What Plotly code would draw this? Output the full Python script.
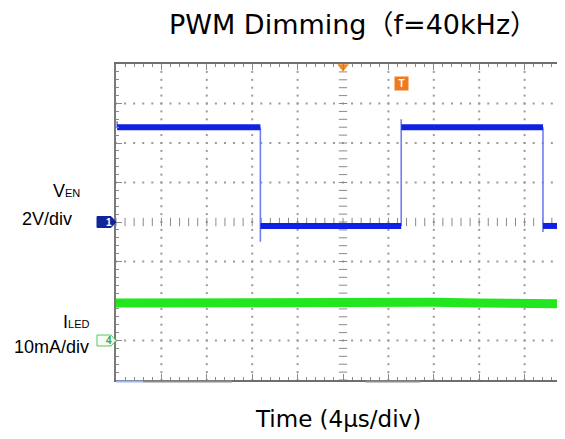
import numpy as np
import plotly.graph_objects as go

# ---------------- data ----------------
time_per_div_us = 4            # horizontal scale
en_v_per_div = 2               # channel 1 scale
led_ma_per_div = 10            # channel 4 scale
en_ground_div = 0              # channel 1 ground marker (divisions)
led_ground_div = -3            # channel 4 ground marker (divisions)
x_range_us = [-20, 19.56]

# V_EN flat levels (segments) in µs / V
en_seg_start_us = [-19.9, -7.28, 5.13, 17.62]
en_seg_end_us = [-7.28, 5.13, 17.62, 19.56]
en_seg_level_v = [4.8, -0.2, 4.8, -0.2]
# V_EN switching edges
en_edge_us = [-7.28, 5.13, 17.62]
en_edge_from_v = [4.8, -0.2, 4.8]
en_edge_peak_v = [-1.0, 5.2, -0.5]
en_edge_to_v = [-0.2, 4.8, -0.2]
en_start_us = -19.9
en_start_spike_v = 5.1
en_trigger_level_v = 1.8

# I_LED trace
led_time_us = [-20, -14, -8, -3, 0, 4, 8, 12, 16, 19.56]
led_ma = [9.5, 9.6, 9.8, 9.9, 10.0, 9.9, 9.7, 9.5, 9.3, 9.3]

title_text = "PWM Dimming（f=40kHz）"
xlabel_text = "Time (4μs/div)"

# ---------------- layout geometry ----------------
OFF = 8                       # page margin of the html body
W, H = 565 - OFF, 439 - OFF
L, R, T, B = 116 - OFF, 0, 64 - OFF, 59
PW, PH = W - L - R, H - T - B


def px_x(px):
    # px given in page coordinates
    return (px - OFF - L) / PW


def px_y(py):
    return (H - B - (py - OFF)) / PH


def en_div(v):
    return v / en_v_per_div + en_ground_div


def led_div(ma):
    return ma / led_ma_per_div + led_ground_div


fig = go.Figure()

# ---------------- graticule dots ----------------
x_major = [x_range_us[0] + time_per_div_us * k for k in range(10)]
y_major = list(range(-4, 5))
gx, gy = [], []
for xm in x_major:
    if xm in (x_range_us[0], 0):
        continue
    for yy in np.arange(-4, 4.001, 0.2):
        gx.append(xm)
        gy.append(yy)
for ym in y_major:
    if ym in (-4, 4, 0):
        continue
    for xx in np.arange(x_range_us[0], x_range_us[1], time_per_div_us / 5):
        gx.append(xx)
        gy.append(ym)
fig.add_trace(go.Scatter(x=gx, y=gy, mode="markers", hoverinfo="skip",
                         marker=dict(symbol="square", size=2, color="#9a9a9a"),
                         showlegend=False))

# center cross with minor ticks
cy = list(np.arange(-4, 4.001, 0.2))
fig.add_trace(go.Scatter(x=[0] * len(cy), y=cy, mode="markers", hoverinfo="skip",
                         marker=dict(symbol="line-ew", size=6,
                                     line=dict(width=1, color="#8a8a8a")),
                         showlegend=False))
cx = list(np.arange(x_range_us[0], x_range_us[1], time_per_div_us / 5))
fig.add_trace(go.Scatter(x=cx, y=[0] * len(cx), mode="markers", hoverinfo="skip",
                         marker=dict(symbol="line-ns", size=6,
                                     line=dict(width=1, color="#8a8a8a")),
                         showlegend=False))

# ---------------- I_LED (green) ----------------
fig.add_trace(go.Scatter(x=led_time_us, y=[led_div(v) for v in led_ma],
                         mode="lines", line=dict(color="#22e61e", width=9),
                         hoverinfo="skip", showlegend=False))

# ---------------- V_EN (blue) ----------------
ex, ey = [], []
for xe, a, p, b in zip(en_edge_us, en_edge_from_v, en_edge_peak_v, en_edge_to_v):
    ex += [xe, xe, xe, None]
    ey += [en_div(a), en_div(p), en_div(b), None]
ex += [en_start_us, en_start_us, None]
ey += [en_div(en_seg_level_v[0]), en_div(en_start_spike_v), None]
fig.add_trace(go.Scatter(x=ex, y=ey, mode="lines",
                         line=dict(color="#6f7ff2", width=1.6),
                         hoverinfo="skip", showlegend=False))

sx, sy = [], []
for s, e, v in zip(en_seg_start_us, en_seg_end_us, en_seg_level_v):
    sx += [s, e, None]
    sy += [en_div(v), en_div(v), None]
fig.add_trace(go.Scatter(x=sx, y=sy, mode="lines",
                         line=dict(color="#0f22e4", width=6),
                         hoverinfo="skip", showlegend=False))

# trigger level arrow and trigger position marker
fig.add_trace(go.Scatter(x=[x_range_us[1] - 0.38], y=[en_div(en_trigger_level_v)],
                         mode="markers", cliponaxis=False, hoverinfo="skip",
                         marker=dict(symbol="triangle-left", size=7, color="#1a2ed0"),
                         showlegend=False))
fig.add_trace(go.Scatter(x=[0], y=[3.93], mode="markers", cliponaxis=False,
                         hoverinfo="skip",
                         marker=dict(symbol="triangle-down", size=10, color="#f08a24"),
                         showlegend=False))
fig.add_annotation(x=en_edge_us[1], y=px_y(76), xref="x", yref="paper",
                   text="<b>T</b>", showarrow=False,
                   font=dict(family="Liberation Sans", size=10, color="white"),
                   bgcolor="#f07a1e", borderpad=1, width=11, height=11)


# ---------------- channel markers in the left margin ----------------
def pentagon(yc, half_px, x0_px, x1_px, tip_px):
    h = half_px / (PH / 8)
    return (f"M {px_x(x0_px)},{yc + h} L {px_x(x1_px)},{yc + h} "
            f"L {px_x(tip_px)},{yc} L {px_x(x1_px)},{yc - h} "
            f"L {px_x(x0_px)},{yc - h} Z")


fig.add_shape(type="path", xref="paper", yref="y",
              path=pentagon(en_ground_div, 5.5, 97, 111, 116),
              fillcolor="#12249a", line=dict(color="#12249a", width=1))
fig.add_annotation(x=px_x(104), y=en_ground_div, xref="paper", yref="y",
                   text="<b>1</b>", showarrow=False,
                   font=dict(family="Liberation Sans", size=10, color="white"))
fig.add_shape(type="path", xref="paper", yref="y",
              path=pentagon(led_ground_div, 5.5, 97, 111, 116),
              fillcolor="#f4fff4", line=dict(color="#5cc25c", width=1))
fig.add_annotation(x=px_x(104), y=led_ground_div, xref="paper", yref="y",
                   text="<b>4</b>", showarrow=False,
                   font=dict(family="Liberation Sans", size=10, color="#3aa83a"))

# small bars under the graticule
for x0, x1, col in [(-20.3, -17.6, "#9fb4f0"), (-17.6, -9.76, "#8c8c8c"),
                    (1.99, 6.84, "#8c8c8c")]:
    fig.add_shape(type="line", xref="x", yref="paper", x0=x0, x1=x1,
                  y0=px_y(381.5), y1=px_y(381.5),
                  line=dict(color=col, width=2))

# ---------------- texts ----------------
fig.add_annotation(x=px_x(353), y=px_y(24), xref="paper", yref="paper",
                   text=title_text, showarrow=False, xanchor="center", yanchor="middle",
                   font=dict(family="DejaVu Sans, Noto Sans CJK SC", size=27, color="black"))
fig.add_annotation(x=px_x(338), y=px_y(419), xref="paper", yref="paper",
                   text=xlabel_text, showarrow=False, xanchor="center", yanchor="middle",
                   font=dict(family="DejaVu Sans", size=23, color="black"))
side_font = dict(family="Liberation Sans", size=18, color="black")
fig.add_annotation(x=px_x(82), y=px_y(191), xref="paper", yref="paper",
                   text="V<span style='font-size:11px'>EN</span>", showarrow=False,
                   xanchor="right", yanchor="middle", font=side_font)
fig.add_annotation(x=px_x(74), y=px_y(219), xref="paper", yref="paper",
                   text="2V/div", showarrow=False,
                   xanchor="right", yanchor="middle", font=side_font)
fig.add_annotation(x=px_x(91), y=px_y(322), xref="paper", yref="paper",
                   text="I<span style='font-size:11px'>LED</span>", showarrow=False,
                   xanchor="right", yanchor="middle", font=side_font)
fig.add_annotation(x=px_x(91), y=px_y(347), xref="paper", yref="paper",
                   text="10mA/div", showarrow=False,
                   xanchor="right", yanchor="middle", font=side_font)

# ---------------- axes ----------------
fig.update_xaxes(range=x_range_us, showgrid=False, zeroline=False,
                 showticklabels=False, showline=True, linecolor="#6e6e6e",
                 linewidth=2, mirror="allticks", ticks="inside", ticklen=6,
                 tickcolor="#8a8a8a", tick0=x_range_us[0], dtick=time_per_div_us,
                 minor=dict(ticks="inside", ticklen=3, dtick=time_per_div_us / 5,
                            tick0=x_range_us[0], tickcolor="#8a8a8a"))
fig.update_yaxes(range=[-4, 4], showgrid=False, zeroline=False,
                 showticklabels=False, showline=True, linecolor="#7a7a7a",
                 linewidth=2, ticks="inside", ticklen=6, tickcolor="#8a8a8a",
                 tick0=0, dtick=1,
                 minor=dict(ticks="inside", ticklen=3, dtick=0.2, tickcolor="#8a8a8a"))

fig.update_layout(width=W, height=H, margin=dict(l=L, r=R, t=T, b=B),
                  paper_bgcolor="white", plot_bgcolor="white", showlegend=False)

fig.write_html("out.html")
